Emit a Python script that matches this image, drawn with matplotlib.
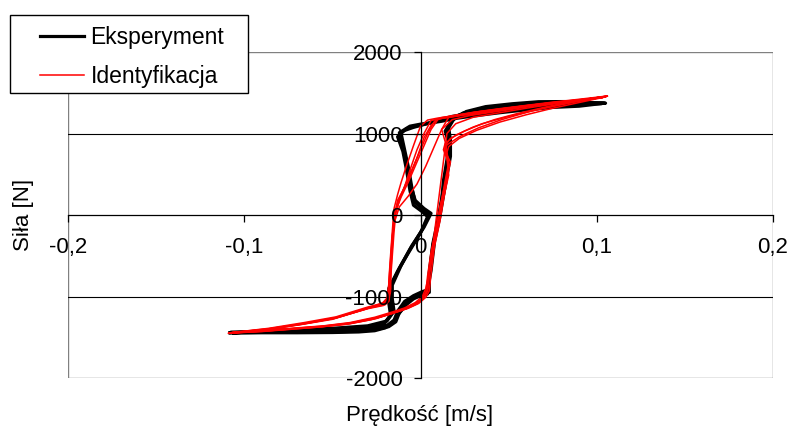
import matplotlib
matplotlib.use('Agg')
import matplotlib.pyplot as plt
from matplotlib.patches import Rectangle

plt.rcParams['font.family'] = ['Liberation Sans', 'DejaVu Sans']
plt.rcParams['font.size'] = 16

# Eksperyment - three measured cycles (velocity [m/s], force [N])
eksp_v1 = [-0.108, -0.09, -0.07, -0.05, -0.035, -0.025, -0.018, -0.014, -0.012, -0.008, -0.003, 0.002, 0.005, 0.005,
           0.007, 0.010, 0.012, 0.014, 0.016, 0.016, 0.015, 0.018, 0.024, 0.035, 0.05, 0.065, 0.08, 0.095, 0.105,
           0.09, 0.075, 0.06, 0.045, 0.03, 0.018, 0.01, 0.004, -0.002, -0.008, -0.011, -0.009, -0.007, -0.005,
           -0.003, 0.002, 0.005, 0.001, -0.006, -0.012, -0.017, -0.017, -0.016, -0.02, -0.03, -0.05, -0.07, -0.09, -0.108]
eksp_f1 = [-1445, -1440, -1438, -1435, -1425, -1405, -1370, -1310, -1200, -1080, -1000, -960, -950, -700,
           -350, -50, 200, 450, 700, 900, 1050, 1160, 1250, 1310, 1350, 1378, 1385, 1378, 1372,
           1365, 1355, 1330, 1295, 1255, 1210, 1160, 1125, 1095, 1060, 1000, 800, 600, 350,
           150, 60, 0, -180, -420, -650, -880, -1050, -1200, -1320, -1375, -1400, -1415, -1430, -1445]

eksp_v2 = [-0.107, -0.09, -0.07, -0.05, -0.035, -0.025, -0.019, -0.015, -0.013, -0.009, -0.004, 0.001, 0.004, 0.006,
           0.008, 0.011, 0.013, 0.015, 0.017, 0.017, 0.016, 0.019, 0.026, 0.037, 0.052, 0.067, 0.082, 0.096, 0.104,
           0.088, 0.072, 0.058, 0.043, 0.028, 0.016, 0.008, 0.002, -0.004, -0.01, -0.013, -0.01, -0.008, -0.006,
           -0.004, 0.001, 0.004, 0.0, -0.007, -0.013, -0.018, -0.018, -0.017, -0.021, -0.032, -0.052, -0.072, -0.09, -0.107]
eksp_f2 = [-1440, -1432, -1428, -1425, -1418, -1395, -1355, -1290, -1180, -1060, -990, -940, -920, -680,
           -320, -20, 230, 480, 720, 920, 1070, 1180, 1270, 1330, 1365, 1390, 1392, 1380, 1370,
           1350, 1335, 1310, 1275, 1235, 1190, 1140, 1110, 1075, 1030, 960, 780, 560, 300,
           120, 40, -20, -220, -470, -690, -900, -1080, -1230, -1340, -1385, -1410, -1425, -1438, -1440]

eksp_v3 = [-0.106, -0.09, -0.07, -0.05, -0.035, -0.026, -0.02, -0.016, -0.013, -0.008, -0.004, 0.0, 0.004, 0.005,
           0.007, 0.01, 0.012, 0.013, 0.015, 0.016, 0.014, 0.017, 0.022, 0.033, 0.048, 0.063, 0.078, 0.092, 0.103,
           0.09, 0.075, 0.06, 0.045, 0.03, 0.02, 0.012, 0.006, 0.0, -0.006, -0.012, -0.01, -0.008, -0.006,
           -0.003, 0.002, 0.006, 0.002, -0.005, -0.011, -0.016, -0.016, -0.015, -0.019, -0.03, -0.05, -0.07, -0.09, -0.106]
eksp_f3 = [-1448, -1445, -1445, -1442, -1435, -1420, -1385, -1330, -1230, -1100, -1030, -990, -970, -720,
           -380, -80, 170, 420, 680, 880, 1030, 1140, 1230, 1290, 1330, 1360, 1375, 1372, 1368,
           1335, 1320, 1290, 1255, 1215, 1185, 1150, 1130, 1115, 1090, 1010, 820, 640, 400,
           180, 80, 20, -150, -380, -620, -860, -1030, -1180, -1300, -1360, -1390, -1405, -1420, -1448]

# Identyfikacja - model response for six cycles
ident_v1 = [0.106, 0.09, 0.075, 0.06, 0.045, 0.03, 0.02, 0.012, 0.008, 0.004, -0.001, -0.006, -0.01, -0.013, -0.015,
            -0.016, -0.017, -0.017, -0.018, -0.02, -0.029, -0.048, -0.065, -0.085, -0.109,
            -0.09, -0.07, -0.057, -0.04, -0.025, -0.015, -0.008, -0.002, 0.002, 0.004, 0.005, 0.008, 0.011, 0.013,
            0.016, 0.015, 0.013, 0.014, 0.02, 0.03, 0.042, 0.055, 0.07, 0.085, 0.106]
ident_f1 = [1460, 1420, 1385, 1345, 1305, 1260, 1225, 1195, 1150, 1000, 750, 500, 300, 150, 0,
            -300, -600, -900, -1050, -1100, -1140, -1264, -1330, -1400, -1450,
            -1425, -1395, -1374, -1335, -1270, -1200, -1150, -1090, -1010, -920, -710, -350, -50, 200,
            490, 700, 800, 880, 980, 1080, 1170, 1245, 1320, 1390, 1460]

ident_v2 = [0.105, 0.09, 0.075, 0.06, 0.045, 0.03, 0.02, 0.014, 0.01, 0.006, 0.002, -0.003, -0.007, -0.011, -0.014,
            -0.016, -0.017, -0.018, -0.019, -0.022, -0.032, -0.05, -0.068, -0.088, -0.108,
            -0.09, -0.07, -0.055, -0.04, -0.026, -0.016, -0.009, -0.003, 0.001, 0.003, 0.005, 0.007, 0.01, 0.012,
            0.015, 0.017, 0.014, 0.015, 0.022, 0.033, 0.046, 0.062, 0.078, 0.092, 0.105]
ident_f2 = [1455, 1410, 1375, 1335, 1295, 1250, 1215, 1195, 1175, 1050, 850, 600, 400, 220, 50,
            -250, -550, -850, -1020, -1090, -1160, -1280, -1345, -1410, -1448,
            -1420, -1385, -1360, -1320, -1255, -1190, -1140, -1075, -1000, -900, -700, -400, -100, 150,
            450, 650, 780, 860, 960, 1070, 1170, 1270, 1350, 1410, 1455]

ident_v3 = [0.104, 0.088, 0.072, 0.058, 0.044, 0.03, 0.02, 0.012, 0.006, 0.002, -0.002, -0.006, -0.009, -0.012, -0.014,
            -0.015, -0.016, -0.017, -0.018, -0.021, -0.03, -0.048, -0.066, -0.086, -0.108,
            -0.09, -0.072, -0.058, -0.042, -0.028, -0.017, -0.01, -0.004, 0.0, 0.003, 0.004, 0.006, 0.009, 0.011,
            0.014, 0.016, 0.015, 0.014, 0.012, 0.018, 0.028, 0.045, 0.065, 0.085, 0.104]
ident_f3 = [1445, 1400, 1365, 1330, 1290, 1245, 1210, 1185, 1160, 1000, 800, 550, 350, 180, 20,
            -200, -500, -800, -1000, -1080, -1130, -1250, -1320, -1390, -1445,
            -1430, -1400, -1375, -1340, -1285, -1215, -1160, -1100, -1040, -950, -750, -450, -150, 100,
            380, 600, 750, 900, 1050, 1170, 1220, 1275, 1340, 1400, 1445]

ident_v4 = [0.105, 0.09, 0.075, 0.06, 0.045, 0.032, 0.024, 0.016, 0.012, 0.008, 0.003, -0.002, -0.007, -0.012, -0.015,
            -0.016, -0.017, -0.017, -0.018, -0.021, -0.03, -0.049, -0.067, -0.087, -0.109,
            -0.09, -0.07, -0.056, -0.04, -0.025, -0.014, -0.007, -0.001, 0.003, 0.005, 0.006, 0.008, 0.011, 0.013,
            0.015, 0.016, 0.014, 0.014, 0.017, 0.025, 0.035, 0.05, 0.068, 0.086, 0.105]
ident_f4 = [1450, 1415, 1380, 1340, 1300, 1265, 1230, 1200, 1050, 850, 600, 380, 230, 100, -100,
            -350, -650, -950, -1060, -1110, -1150, -1270, -1340, -1405, -1452,
            -1428, -1390, -1368, -1328, -1262, -1195, -1145, -1085, -1010, -930, -720, -380, -80, 180,
            420, 620, 760, 850, 940, 1030, 1120, 1210, 1300, 1380, 1450]

ident_v5 = [0.104, 0.09, 0.075, 0.06, 0.045, 0.03, 0.018, 0.01, 0.004, 0.0, -0.004, -0.008, -0.011, -0.013, -0.015,
            -0.016, -0.017, -0.018, -0.018, -0.021, -0.03, -0.049, -0.067, -0.087, -0.108,
            -0.09, -0.07, -0.056, -0.04, -0.025, -0.015, -0.008, -0.002, 0.002, 0.004, 0.005, 0.015, 0.02, 0.03,
            0.045, 0.06, 0.075, 0.09, 0.104]
ident_f5 = [1445, 1412, 1378, 1342, 1300, 1258, 1215, 1190, 1165, 1090, 850, 600, 400, 250, 80,
            -200, -500, -820, -1030, -1095, -1145, -1268, -1336, -1400, -1448,
            -1424, -1392, -1370, -1330, -1265, -1198, -1148, -1088, -1010, -930, -720, 1000, 1120, 1200,
            1255, 1310, 1360, 1410, 1445]

ident_v6 = [0.103, 0.088, 0.072, 0.058, 0.044, 0.03, 0.019, 0.013, 0.01, 0.006, 0.002, -0.002, -0.006, -0.01, -0.013,
            -0.015, -0.016, -0.017, -0.018, -0.02, -0.03, -0.048, -0.066, -0.086, -0.107,
            -0.09, -0.07, -0.056, -0.04, -0.025, -0.015, -0.008, -0.002, 0.002, 0.004, 0.005, 0.007, 0.01, 0.012,
            0.014, 0.016, 0.015, 0.016, 0.022, 0.032, 0.045, 0.06, 0.075, 0.09, 0.103]
ident_f6 = [1440, 1405, 1370, 1335, 1295, 1255, 1215, 1190, 1180, 1100, 950, 700, 480, 300, 180,
            -50, -400, -750, -980, -1070, -1140, -1258, -1330, -1395, -1442,
            -1420, -1388, -1365, -1325, -1260, -1195, -1145, -1085, -1005, -925, -700, -380, -60, 180,
            420, 640, 770, 840, 940, 1040, 1140, 1230, 1310, 1380, 1440]

eksp = [(eksp_v1, eksp_f1), (eksp_v2, eksp_f2), (eksp_v3, eksp_f3)]
ident = [(ident_v1, ident_f1), (ident_v2, ident_f2), (ident_v3, ident_f3),
         (ident_v4, ident_f4), (ident_v5, ident_f5), (ident_v6, ident_f6)]

x_ticks = [-0.2, -0.1, 0, 0.1, 0.2]
x_labels = ['-0,2', '-0,1', '0', '0,1', '0,2']
y_ticks = [-2000, -1000, 0, 1000, 2000]
y_labels = ['-2000', '-1000', '0', '1000', '2000']

fig = plt.figure(figsize=(7.95, 4.3), dpi=100)
ax = fig.add_axes([68 / 795, 1 - 378 / 430, (773 - 68) / 795, (378 - 52) / 430])

for i, (v, f) in enumerate(eksp):
    ax.plot(v, f, color='black', lw=2.3, solid_joinstyle='round',
            label='Eksperyment' if i == 0 else None)
for i, (v, f) in enumerate(ident):
    ax.plot(v, f, color='#ff0000', lw=1.1, solid_joinstyle='round',
            label='Identyfikacja' if i == 0 else None)

ax.set_xlim(-0.2, 0.2)
ax.set_ylim(-2000, 2000)

for y in (-1000, 1000):
    ax.axhline(y, color='black', lw=0.8, zorder=1)

for s in ('top', 'right'):
    ax.spines[s].set_visible(False)
for s in ('left', 'bottom'):
    ax.spines[s].set_position('zero')
    ax.spines[s].set_color('black')
    ax.spines[s].set_linewidth(0.9)
ax.add_patch(Rectangle((0, 0), 1, 1, transform=ax.transAxes, fill=False,
                       edgecolor='#808080', lw=1.0, zorder=0.5))

ax.set_xticks(x_ticks)
ax.set_xticklabels(x_labels)
ax.set_yticks(y_ticks)
ax.set_yticklabels(y_labels)
ax.tick_params(axis='x', direction='out', length=5, width=0.9, pad=11)
ax.tick_params(axis='y', direction='out', length=5, width=0.9, pad=8)
ax.set_axisbelow(False)

fig.text(420 / 795, 1 - 415 / 430, 'Prędkość [m/s]', ha='center', va='center')
fig.text(24 / 795, 0.5, 'Siła [N]', rotation=90, ha='center', va='center')

# legend box drawn separately so its padding matches the original
fig.patches.append(Rectangle((10 / 795, 1 - 93 / 430), 238 / 795, 78 / 430,
                             transform=fig.transFigure, facecolor='white',
                             edgecolor='black', lw=1.0, zorder=3))
leg = fig.legend(loc='upper left', bbox_to_anchor=(31 / 795, 1 - 17 / 430), borderaxespad=0,
                 frameon=False, handlelength=1.9, handletextpad=0.3,
                 labelspacing=0.7, borderpad=0.4, fontsize=16.5)
leg.set_zorder(4)

fig.savefig('out.png', dpi=100)
